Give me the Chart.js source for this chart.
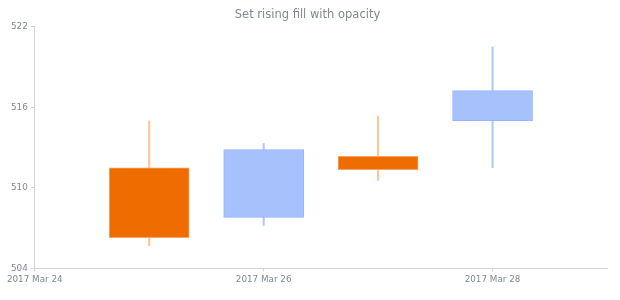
<!DOCTYPE html>
<html>
<head>
<meta charset="utf-8">
<script src="https://cdn.jsdelivr.net/npm/chart.js@4.4.0/dist/chart.umd.min.js"></script>
<style>
  html, body { margin: 0; padding: 0; background: #fff; }
  #wrap { width: 620px; height: 300px; }
</style>
</head>
<body>
<div id="wrap"><canvas id="myChart"></canvas></div>
<script>
// datos de las velas (dia de marzo 2017)
const days = [25, 26, 27, 28];
const open = [511.5, 507.8, 512.35, 515.0];
const high = [515.0, 513.3, 515.35, 520.5];
const low = [505.7, 507.2, 510.55, 511.5];
const close = [506.3, 512.85, 511.35, 517.25];

// marcas del eje x
const tickDays = [24, 26, 28];
const tickLabels = ['2017 Mar 24', '2017 Mar 26', '2017 Mar 28'];
const yTicks = [504, 510, 516, 522];

const risingFill = '#a7c1fc';
const risingStroke = '#94b7fa';
const fallingFill = '#ef6c00';
const fallingStroke = '#f5a466';
const axisColor = '#cfd5da';
const textColor = '#7f8a93';

const isRising = days.map((d, i) => close[i] >= open[i]);

const ctx = document.getElementById('myChart');

new Chart(ctx, {
    type: 'bar',
    data: {
        datasets: [{
            // cuerpo de la vela
            data: days.map((d, i) => ({ x: d, y: [open[i], close[i]] })),
            backgroundColor: isRising.map(r => r ? risingFill : fallingFill),
            borderColor: isRising.map(r => r ? risingStroke : fallingStroke),
            borderWidth: 1,
            borderSkipped: false,
            barThickness: 80,
            grouped: false,
            order: 0
        }, {
            // mecha
            data: days.map((d, i) => ({ x: d, y: [low[i], high[i]] })),
            backgroundColor: isRising.map(r => r ? '#b0cdf5' : '#fcc79c'),
            borderWidth: 0,
            barThickness: 1.5,
            grouped: false,
            order: 1
        }]
    },
    options: {
        responsive: true,
        maintainAspectRatio: false,
        animation: false,
        layout: { padding: { left: 8, right: 13, top: 2, bottom: 12 } },
        plugins: {
            legend: { display: false },
            tooltip: { enabled: false },
            title: {
                display: true,
                text: 'Set rising fill with opacity',
                color: textColor,
                font: { family: 'DejaVu Sans', size: 11.5, weight: 'normal' },
                padding: { top: 6, bottom: 5 }
            }
        },
        scales: {
            x: {
                type: 'linear',
                min: 24,
                max: 29,
                offset: false,
                afterBuildTicks: (scale) => {
                    scale.ticks = tickDays.map(v => ({ value: v }));
                },
                ticks: {
                    color: textColor,
                    font: { family: 'DejaVu Sans', size: 8.8 },
                    maxRotation: 0,
                    padding: 3,
                    callback: (v) => tickLabels[tickDays.indexOf(v)]
                },
                grid: { offset: false, drawOnChartArea: false, drawTicks: true, tickLength: 3, color: axisColor },
                border: { color: axisColor }
            },
            y: {
                min: 504,
                max: 522,
                afterBuildTicks: (scale) => {
                    scale.ticks = yTicks.map(v => ({ value: v }));
                },
                ticks: {
                    color: textColor,
                    font: { family: 'DejaVu Sans', size: 8.8 },
                    padding: 3
                },
                grid: { drawOnChartArea: false, drawTicks: true, tickLength: 4, color: axisColor },
                border: { color: axisColor }
            }
        }
    }
});
</script>
</body>
</html>
